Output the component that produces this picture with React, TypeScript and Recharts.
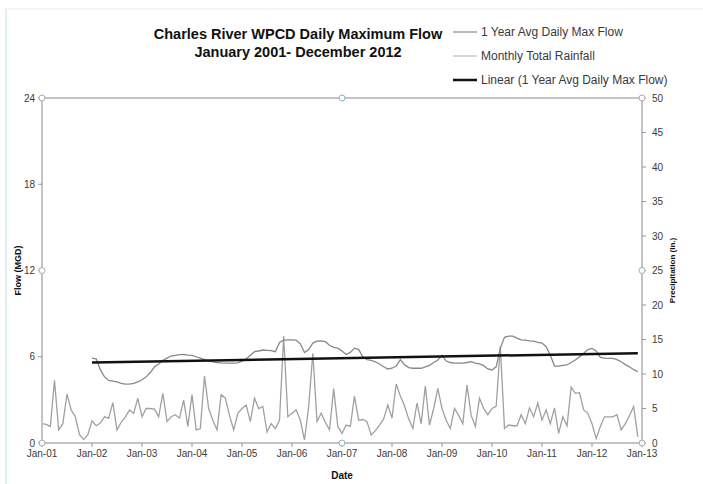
import React from 'react';
import { ComposedChart, Line, XAxis, YAxis, Legend, ReferenceLine, ReferenceDot, Label } from 'recharts';

// Year tick labels (one every 12 months, month index 0 = Jan-01)
const yearTickLabels = ['Jan-01', 'Jan-02', 'Jan-03', 'Jan-04', 'Jan-05', 'Jan-06', 'Jan-07', 'Jan-08', 'Jan-09', 'Jan-10', 'Jan-11', 'Jan-12', 'Jan-13'];
const monthsPerYear = 12;

// Monthly Total Rainfall (in.), Jan 2001 .. Dec 2012
const rainfall = [
  2.8, 2.7, 2.4, 9.1, 1.9, 2.8, 7.1, 4.8, 3.8, 1.2, 0.5, 1.2,
  3.2, 2.5, 2.9, 3.8, 3.6, 5.85, 1.9, 3.0, 3.8, 4.8, 4.3, 6.5,
  3.8, 5.0, 5.0, 4.9, 3.8, 7.2, 3.1, 3.8, 4.1, 3.6, 6.2, 2.4,
  7.0, 1.9, 2.1, 9.7, 5.0, 3.3, 1.9, 7.0, 6.5, 4.0, 1.9, 4.3,
  5.0, 5.5, 3.1, 6.5, 5.0, 5.3, 1.6, 2.8, 2.1, 3.3, 15.5, 3.8,
  4.3, 4.8, 3.3, 0.43, 5.3, 13.0, 3.1, 4.3, 3.0, 1.9, 7.9, 2.4,
  1.4, 2.6, 2.4, 6.8, 3.3, 3.4, 3.1, 1.16, 1.8, 2.6, 3.5, 5.5,
  3.6, 8.55, 6.8, 5.4, 3.5, 2.1, 5.8, 2.8, 8.26, 2.6, 5.0, 7.9,
  5.0, 3.3, 2.1, 5.0, 4.0, 2.8, 8.4, 4.0, 2.4, 6.5, 5.0, 4.1,
  5.0, 5.3, 14.0, 2.1, 2.6, 2.5, 2.5, 4.1, 2.8, 5.1, 3.8, 5.8,
  3.3, 4.8, 2.8, 5.1, 1.4, 3.8, 2.5, 8.1, 7.2, 7.3, 4.8, 4.3,
  2.8, 0.63, 2.4, 3.8, 3.8, 3.8, 4.1, 1.9, 2.8, 4.0, 5.3, 0.9,
];

// 1 Year Avg Daily Max Flow (MGD), Jan 2002 .. Dec 2012
const flowStartMonth = 12;
const flow = [
  5.9, 5.85, 5.1, 4.6, 4.35, 4.3, 4.25, 4.15, 4.1, 4.1, 4.15, 4.25,
  4.4, 4.6, 4.9, 5.3, 5.5, 5.75, 5.9, 6.05, 6.1, 6.15, 6.17, 6.12,
  6.1, 6.0, 5.9, 5.8, 5.72, 5.65, 5.6, 5.57, 5.55, 5.55, 5.55, 5.58,
  5.7, 5.85, 6.1, 6.35, 6.4, 6.47, 6.45, 6.42, 6.35, 7.0, 7.15, 7.17,
  7.17, 7.15, 6.9, 6.3, 6.5, 6.95, 7.08, 7.1, 7.05, 6.8, 6.65, 6.6,
  6.4, 6.15, 6.3, 6.6, 6.5, 6.0, 5.8, 5.75, 5.65, 5.5, 5.3, 5.15,
  5.2, 5.35, 5.8, 5.45, 5.25, 5.2, 5.2, 5.2, 5.3, 5.4, 5.6, 5.77,
  6.1, 5.7, 5.6, 5.55, 5.55, 5.55, 5.6, 5.66, 5.55, 5.5, 5.38, 5.15,
  5.08, 5.3, 6.6, 7.35, 7.44, 7.44, 7.3, 7.17, 7.15, 7.1, 7.08, 7.0,
  6.95, 6.7, 6.1, 5.35, 5.35, 5.4, 5.43, 5.6, 5.77, 6.0, 6.24, 6.5,
  6.58, 6.4, 5.95, 5.9, 5.89, 5.88, 5.8, 5.65, 5.45, 5.3, 5.1, 4.96,
];

// Linear trend of the flow series (end points)
const trendMonths = [12, 143];
const trendValues = [5.6, 6.25];

const flowTicks = [0, 6, 12, 18, 24];
const rainTicks = [0, 5, 10, 15, 20, 25, 30, 35, 40, 45, 50];

// Selection-handle circles seen on the chart frame: [month, flow]
const handleDots = [[0, 24], [0, 12], [0, 0], [72, 24], [72, 0], [144, 24], [144, 12], [144, 0]];

const data = rainfall.map((r, i) => ({
  m: i,
  rain: r,
  flow: i >= flowStartMonth ? flow[i - flowStartMonth] : null,
}));
const trendData = trendMonths.map((m, i) => ({ m, trend: trendValues[i] }));
const xTicks = yearTickLabels.map((_, i) => i * monthsPerYear);

const AXIS = '#c4c4c4';
const TEXT = '#3a3a3a';

const legendItems = [
  { label: '1 Year Avg Daily Max Flow', color: '#8a8a8a', w: 1.2 },
  { label: 'Monthly Total Rainfall', color: '#bdbdbd', w: 1.2 },
  { label: 'Linear (1 Year Avg Daily Max Flow)', color: '#111', w: 2.5 },
];

const renderLegend = () => (
  <div style={{ fontFamily: '"Liberation Sans", Arial, sans-serif' }}>
    {legendItems.map((it) => (
      <div key={it.label} style={{ height: 24, display: 'flex', alignItems: 'center' }}>
        <svg width={26} height={6}>
          <line x1={0} y1={3} x2={24} y2={3} stroke={it.color} strokeWidth={it.w} />
        </svg>
        <span style={{ fontSize: 12, color: TEXT, marginLeft: 2, whiteSpace: 'nowrap' }}>{it.label}</span>
      </div>
    ))}
  </div>
);

export default function App() {
  return (
    <div
      style={{
        position: 'absolute',
        left: 0,
        top: 0,
        width: 703,
        height: 484,
        background: '#fff',
        overflow: 'hidden',
        fontFamily: '"Liberation Sans", Arial, sans-serif',
      }}
    >
      <div
        style={{
          position: 'absolute',
          left: 5,
          top: 8,
          right: 0,
          bottom: 0,
          borderLeft: '2px solid #e2f1ef',
          borderTop: '2px solid #eef5f5',
        }}
      />
      <div
        style={{
          position: 'absolute',
          left: 130,
          width: 336,
          top: 25,
          textAlign: 'center',
          fontWeight: 'bold',
          fontSize: 14.5,
          lineHeight: '18px',
          color: '#111',
        }}
      >
        Charles River WPCD Daily Maximum Flow
        <br />
        January 2001- December 2012
      </div>
      <ComposedChart width={703} height={484} data={data} margin={{ top: 98, right: 31, bottom: 5, left: 12 }}>
        <XAxis
          dataKey="m"
          type="number"
          domain={[0, 144]}
          ticks={xTicks}
          interval={0}
          tickFormatter={(v: number) => yearTickLabels[Math.round(v / monthsPerYear)]}
          axisLine={{ stroke: AXIS, strokeWidth: 2 }}
          tickLine={{ stroke: '#999' }}
          tickSize={4}
          tickMargin={3}
          tick={{ fill: TEXT, fontSize: 10 }}
          height={36}
        >
          <Label value="Date" position="insideBottom" offset={0} style={{ fontWeight: 'bold', fontSize: 10, fill: '#111' }} />
        </XAxis>
        <YAxis
          yAxisId="flow"
          domain={[0, 24]}
          ticks={flowTicks}
          interval={0}
          width={30}
          axisLine={{ stroke: AXIS, strokeWidth: 2 }}
          tickLine={{ stroke: '#999' }}
          tickSize={4}
          tickMargin={3}
          tick={{ fill: TEXT, fontSize: 10 }}
        >
          <Label value="Flow (MGD)" angle={-90} position="center" dx={-9} style={{ fontWeight: 'bold', fontSize: 9, fill: '#111' }} />
        </YAxis>
        <YAxis
          yAxisId="rain"
          orientation="right"
          domain={[0, 50]}
          ticks={rainTicks}
          interval={0}
          width={30}
          axisLine={{ stroke: AXIS, strokeWidth: 2 }}
          tickLine={{ stroke: '#999' }}
          tickSize={4}
          tickMargin={6}
          tick={{ fill: TEXT, fontSize: 10 }}
        >
          <Label value="Precipitation (In.)" angle={-90} position="center" dx={15} style={{ fontWeight: 'bold', fontSize: 8, fill: '#111' }} />
        </YAxis>
        <ReferenceLine yAxisId="flow" y={24} stroke={AXIS} strokeWidth={2} />
        <Line yAxisId="rain" dataKey="rain" stroke="#a0a0a0" strokeWidth={1.3} dot={false} isAnimationActive={false} />
        <Line yAxisId="flow" dataKey="flow" stroke="#888" strokeWidth={1.3} dot={false} isAnimationActive={false} />
        <Line yAxisId="flow" data={trendData} dataKey="trend" stroke="#111" strokeWidth={2.5} dot={false} isAnimationActive={false} />
        {handleDots.map(([x, y], i) => (
          <ReferenceDot
            key={i}
            yAxisId="flow"
            x={x}
            y={y}
            r={3}
            fill="#fff"
            stroke={x === 72 ? '#8ab4c4' : '#aaa'}
            strokeWidth={1}
            ifOverflow="visible"
          />
        ))}
        <Legend
          layout="vertical"
          align="center"
          verticalAlign="middle"
          wrapperStyle={{ left: 453, top: 20, width: 250, height: 'auto' }}
          content={renderLegend}
        />
      </ComposedChart>
    </div>
  );
}
